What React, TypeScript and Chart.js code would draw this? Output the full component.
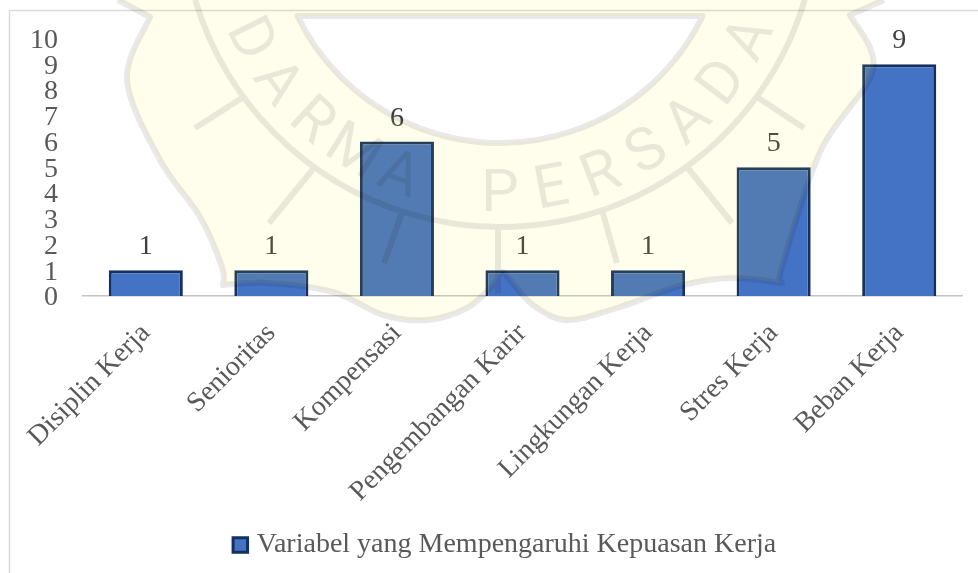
import React, { useEffect, useRef } from "react";
import { Chart, registerables } from "chart.js";

Chart.register(...registerables);

const categories = [
  "Disiplin Kerja",
  "Senioritas",
  "Kompensasi",
  "Pengembangan Karir",
  "Lingkungan Kerja",
  "Stres Kerja",
  "Beban Kerja",
];
const values = [1, 1, 6, 1, 1, 5, 9];
const seriesName = "Variabel yang Mempengaruhi Kepuasan Kerja";
const FONT = '"Liberation Serif", serif';

// background watermark decoration (campus seal), canvas pixels
type P = [number, number];
const sealLeft: P[] = [[150, 17], [127, 80], [160, 160], [200, 217], [222, 267], [223, 285]];
const sealBottom: P[] = [[223, 285], [267, 283], [333, 292], [383, 315], [427, 320], [467, 308], [493, 285], [502, 272], [510, 280], [533, 305], [567, 320], [617, 308], [683, 285], [733, 278], [782, 283]];
const sealRight: P[] = [[782, 283], [782, 267], [821, 150], [873, 70], [850, 15]];
const spokes: [P, P][] = [
  [[242, 98], [195, 128]], [[314, 168], [269, 223]], [[403, 210], [384, 263]], [[498, 227], [498, 293]],
  [[602, 210], [617, 263]], [[687, 167], [732, 223]], [[757, 97], [804, 128]],
];
const sealText = "DARMA PERSADA";

function spline(ctx: CanvasRenderingContext2D, pts: P[]) {
  for (let i = 0; i < pts.length - 1; i++) {
    const p0 = pts[Math.max(i - 1, 0)], p1 = pts[i], p2 = pts[i + 1], p3 = pts[Math.min(i + 2, pts.length - 1)];
    ctx.bezierCurveTo(
      p1[0] + (p2[0] - p0[0]) / 6, p1[1] + (p2[1] - p0[1]) / 6,
      p2[0] - (p3[0] - p1[0]) / 6, p2[1] - (p3[1] - p1[1]) / 6,
      p2[0], p2[1]);
  }
}

function shieldPath(ctx: CanvasRenderingContext2D) {
  ctx.moveTo(118, 0);
  ctx.lineTo(150, 17);
  spline(ctx, sealLeft);
  spline(ctx, sealBottom);
  spline(ctx, sealRight);
  ctx.lineTo(884, 0);
}

const watermark = {
  id: "watermark",
  afterDraw(chart: any) {
    const ctx: CanvasRenderingContext2D = chart.ctx;
    ctx.save();
    const innerC: P = [500, -82];
    const innerR = 225;
    const a0 = Math.asin(98 / innerR);
    ctx.beginPath();
    shieldPath(ctx);
    ctx.closePath();
    ctx.moveTo(innerC[0] - innerR * Math.cos(a0), 16);
    ctx.lineTo(innerC[0] + innerR * Math.cos(a0), 16);
    ctx.arc(innerC[0], innerC[1], innerR, a0, Math.PI - a0);
    ctx.closePath();
    ctx.fillStyle = "rgba(255,235,0,0.08)";
    ctx.fill("evenodd");
    ctx.beginPath();
    shieldPath(ctx);
    ctx.moveTo(innerC[0] - innerR * Math.cos(a0), 16);
    ctx.lineTo(innerC[0] + innerR * Math.cos(a0), 16);
    ctx.arc(innerC[0], innerC[1], innerR, a0, Math.PI - a0);
    ctx.closePath();
    ctx.moveTo(804, 0);
    ctx.arc(500, -91, 318, Math.asin(91 / 318), Math.PI - Math.asin(91 / 318));
    for (const [a, b] of spokes) {
      ctx.moveTo(a[0], a[1]);
      ctx.lineTo(b[0], b[1]);
    }
    ctx.strokeStyle = "rgba(0,0,0,0.085)";
    ctx.lineWidth = 6;
    ctx.lineJoin = "round";
    ctx.stroke();
    ctx.fillStyle = "rgba(0,0,0,0.085)";
    ctx.font = "400 60px Roboto";
    ctx.textAlign = "center";
    ctx.textBaseline = "alphabetic";
    const step = (10.6 * Math.PI) / 180;
    [...sealText].forEach((ch, i) => {
      const phi = (i - 6) * step;
      const R = 296;
      ctx.save();
      ctx.translate(500 + R * Math.sin(phi), -85 + R * Math.cos(phi));
      ctx.rotate(-phi);
      ctx.fillText(ch, 0, 0);
      ctx.restore();
    });
    ctx.restore();
  },
};

const frame = {
  id: "frame",
  beforeDraw(chart: any) {
    const { ctx, width, height } = chart;
    ctx.save();
    ctx.strokeStyle = "#DADADA";
    ctx.lineWidth = 1.5;
    ctx.beginPath();
    ctx.moveTo(9.5, height);
    ctx.lineTo(9.5, 10.5);
    ctx.lineTo(width, 10.5);
    ctx.stroke();
    ctx.restore();
  },
};

const barValues = {
  id: "barValues",
  afterDatasetsDraw(chart: any) {
    const { ctx } = chart;
    const meta = chart.getDatasetMeta(0);
    ctx.save();
    ctx.fillStyle = "#404040";
    ctx.font = `28px ${FONT}`;
    ctx.textAlign = "center";
    ctx.textBaseline = "alphabetic";
    meta.data.forEach((bar: any, i: number) => {
      ctx.fillText(String(values[i]), bar.x, bar.y - 16);
    });
    ctx.restore();
  },
};

const legendShift = {
  id: "legendShift",
  afterLayout(chart: any) {
    chart.legend.left += 16;
    chart.legend.right += 16;
  },
};

export default function App() {
  const ref = useRef<HTMLCanvasElement>(null);
  useEffect(() => {
    const chart = new Chart(ref.current!, {
      type: "bar",
      data: {
        labels: categories,
        datasets: [
          {
            label: seriesName,
            data: values,
            backgroundColor: "#4472C4",
            borderColor: "#14305F",
            borderWidth: 3,
            categoryPercentage: 1,
            barPercentage: 0.59,
          },
        ],
      },
      options: {
        responsive: false,
        animation: false,
        layout: { padding: { left: 20, right: 16, top: 38.5, bottom: 4 } },
        plugins: {
          tooltip: { enabled: false },
          legend: {
            position: "bottom",
            labels: {
              usePointStyle: true,
              pointStyle: "rect",
              boxWidth: 5,
              boxHeight: 14.5,
              padding: 10,
              color: "#595959",
              font: { family: FONT, size: 28 },
            },
          },
        },
        scales: {
          x: {
            z: 1,
            grid: { display: false, drawTicks: false },
            border: { color: "#C4C4C4", width: 1.5 },
            afterFit(s: any) { s.height = 225; },
            ticks: {
              autoSkip: false,
              minRotation: 45,
              maxRotation: 45,
              padding: 21,
              color: "#595959",
              font: { family: FONT, size: 28 },
            },
          },
          y: {
            min: 0,
            max: 10,
            grid: { display: false, drawTicks: false },
            border: { display: false },
            afterFit(s: any) {
              s.width = 63;
              s.paddingTop = 0;
              s.paddingBottom = 0;
            },
            ticks: {
              autoSkip: false,
              stepSize: 1,
              padding: 25,
              labelOffset: 2,
              color: "#595959",
              font: { family: FONT, size: 28 },
            },
          },
        },
      } as any,
      plugins: [legendShift, frame, barValues, watermark],
    });
    return () => chart.destroy();
  }, []);
  return (
    <div style={{ position: "fixed", left: 0, top: 0, width: 978, height: 573, background: "#fff" }}>
      <canvas ref={ref} width={978} height={573} style={{ display: "block" }} />
    </div>
  );
}
